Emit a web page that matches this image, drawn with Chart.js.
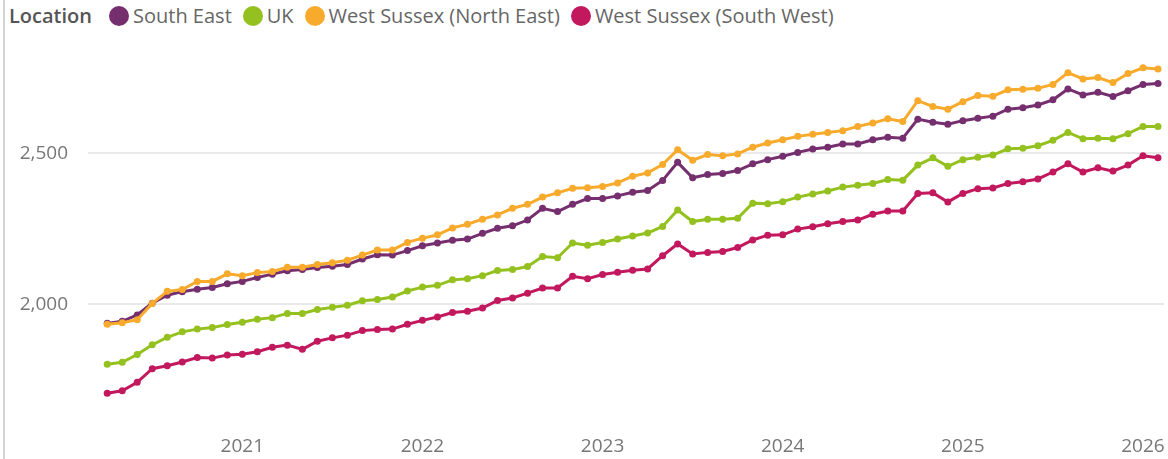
<!DOCTYPE html>
<html lang="en">
  <head>
    <meta charset="UTF-8" />
    <title>Private rents by location</title>
    <script src="https://cdn.jsdelivr.net/npm/chart.js"></script>
    <style>
      body { margin: 0; background: #fff; font-family: "Segoe UI", "Open Sans", sans-serif; }
      #wrap { position: relative; width: 1168px; height: 459px; overflow: hidden; }
      #edge { position: absolute; left: 3px; top: 0; width: 2px; height: 459px; background: #d4d4d4; }
      #legend { position: absolute; left: 9px; top: 2px; display: flex; align-items: center; font-size: 20px; color: #666; white-space: nowrap; }
      #legend .title { font-weight: 600; color: #555; margin-right: 17px; }
      #legend .item { display: flex; align-items: center; margin-right: 11px; }
      #legend .dot { width: 20px; height: 20px; border-radius: 50%; margin-right: 4px; }
      canvas { position: absolute; left: 0; top: 0; }
    </style>
  </head>
  <body>
    <div id="wrap">
      <div id="edge"></div>
      <div id="legend"><span class="title">Location</span></div>
      <canvas id="rentChart" width="1168" height="459"></canvas>
    </div>

    <script>
      // monthly points, Apr 2020 .. Feb 2026
      const months = [
        "2020-04", "2020-05", "2020-06", "2020-07", "2020-08", "2020-09", "2020-10", "2020-11", "2020-12",
        "2021-01", "2021-02", "2021-03", "2021-04", "2021-05", "2021-06", "2021-07", "2021-08", "2021-09", "2021-10", "2021-11", "2021-12",
        "2022-01", "2022-02", "2022-03", "2022-04", "2022-05", "2022-06", "2022-07", "2022-08", "2022-09", "2022-10", "2022-11", "2022-12",
        "2023-01", "2023-02", "2023-03", "2023-04", "2023-05", "2023-06", "2023-07", "2023-08", "2023-09", "2023-10", "2023-11", "2023-12",
        "2024-01", "2024-02", "2024-03", "2024-04", "2024-05", "2024-06", "2024-07", "2024-08", "2024-09", "2024-10", "2024-11", "2024-12",
        "2025-01", "2025-02", "2025-03", "2025-04", "2025-05", "2025-06", "2025-07", "2025-08", "2025-09", "2025-10", "2025-11", "2025-12",
        "2026-01", "2026-02"
      ];

      const yearTicks = ["2021", "2022", "2023", "2024", "2025", "2026"];
      const valueTicks = [2000, 2500];

      const southEast = [
        1937, 1944, 1965, 2004, 2030, 2042, 2050, 2056, 2068, 2076, 2089, 2100,
        2111, 2115, 2122, 2126, 2132, 2150, 2164, 2163, 2178, 2194, 2203, 2212,
        2216, 2235, 2252, 2260, 2279, 2318, 2307, 2331, 2350, 2350, 2359, 2371,
        2377, 2410, 2470, 2419, 2430, 2433, 2443, 2465, 2479, 2490, 2503, 2514,
        2520, 2531, 2531, 2545, 2553, 2550, 2613, 2603, 2596, 2608, 2616, 2623,
        2646, 2651, 2660, 2677, 2713, 2693, 2702, 2688, 2707, 2728, 2731
      ];
      const uk = [
        1802, 1808, 1834, 1866, 1891, 1909, 1918, 1923, 1933, 1941, 1951, 1956,
        1970, 1970, 1983, 1990, 1997, 2012, 2016, 2024, 2044, 2057, 2063, 2081,
        2085, 2095, 2112, 2115, 2125, 2158, 2154, 2203, 2196, 2205, 2216, 2226,
        2236, 2258, 2312, 2274, 2282, 2282, 2285, 2335, 2333, 2340, 2355, 2365,
        2375, 2388, 2394, 2400, 2413, 2411, 2461, 2485, 2457, 2479, 2487, 2494,
        2515, 2517, 2525, 2543, 2569, 2548, 2550, 2548, 2565, 2589, 2589
      ];
      const wsNorthEast = [
        1934, 1939, 1949, 2003, 2043, 2049, 2076, 2076, 2101, 2095, 2105, 2109,
        2123, 2123, 2132, 2138, 2146, 2163, 2180, 2180, 2205, 2219, 2230, 2253,
        2265, 2282, 2296, 2318, 2331, 2355, 2369, 2384, 2386, 2390, 2402, 2424,
        2435, 2463, 2512, 2477, 2496, 2492, 2498, 2520, 2534, 2545, 2556, 2563,
        2569, 2575, 2589, 2600, 2614, 2605, 2674, 2655, 2646, 2671, 2691, 2689,
        2710, 2712, 2715, 2728, 2767, 2746, 2751, 2734, 2764, 2783, 2779
      ];
      const wsSouthWest = [
        1706, 1714, 1742, 1787, 1797, 1809, 1824, 1822, 1832, 1835, 1843, 1858,
        1865, 1851, 1878, 1889, 1898, 1913, 1917, 1918, 1934, 1947, 1958, 1973,
        1977, 1988, 2013, 2021, 2037, 2054, 2054, 2093, 2085, 2099, 2106, 2113,
        2117, 2161, 2200, 2167, 2172, 2175, 2188, 2213, 2229, 2230, 2249, 2257,
        2267, 2274, 2279, 2298, 2309, 2309, 2367, 2369, 2339, 2367, 2383, 2385,
        2400, 2406, 2415, 2438, 2465, 2438, 2452, 2441, 2461, 2492, 2485
      ];

      const series = [
        { label: "South East", data: southEast, color: "#762F6E", order: 1 },
        { label: "UK", data: uk, color: "#94C11F", order: 2 },
        { label: "West Sussex (North East)", data: wsNorthEast, color: "#F7AA2C", order: 0 },
        { label: "West Sussex (South West)", data: wsSouthWest, color: "#C2185E", order: 3 },
      ];

      // html legend
      const legend = document.getElementById("legend");
      for (const s of series) {
        const item = document.createElement("span");
        item.className = "item";
        item.innerHTML = `<span class="dot" style="background:${s.color}"></span>${s.label}`;
        legend.appendChild(item);
      }

      const monthIndex = (ym) => months.indexOf(ym);

      const datasets = series.map((s) => ({
        label: s.label,
        data: s.data.map((v, i) => ({ x: i, y: v })),
        borderColor: s.color,
        backgroundColor: s.color,
        borderWidth: 3,
        pointRadius: 3.5,
        pointBorderWidth: 0,
        tension: 0,
        order: s.order,
      }));

      const tickFont = { family: "'Segoe UI', 'Open Sans', sans-serif", size: 19 };

      new Chart(document.getElementById("rentChart"), {
        type: "line",
        data: { datasets },
        options: {
          responsive: false,
          animation: false,
          layout: { padding: { top: 40, left: 0, right: 0, bottom: 0 } },
          plugins: { legend: { display: false }, tooltip: { enabled: false } },
          scales: {
            x: {
              type: "linear",
              min: -1.28,
              max: 70.4,
              grid: { display: false, drawTicks: false },
              border: { display: false },
              afterBuildTicks: (scale) => {
                scale.ticks = yearTicks.map((y) => ({ value: monthIndex(y + "-01") }));
              },
              afterFit: (scale) => {
                scale.height = 29;
                scale.paddingLeft = 0;
                scale.paddingRight = 0;
              },
              ticks: {
                autoSkip: false,
                maxRotation: 0,
                padding: 8,
                color: "#777",
                font: tickFont,
                callback: (v) => months[v].slice(0, 4),
              },
            },
            y: {
              min: 1592,
              max: 2875,
              grid: { color: "#e9e9e9", lineWidth: 2, drawTicks: false },
              border: { display: false },
              afterBuildTicks: (scale) => {
                scale.ticks = valueTicks.map((v) => ({ value: v }));
              },
              afterFit: (scale) => { scale.width = 88; },
              ticks: {
                padding: 20,
                color: "#777",
                font: tickFont,
                callback: (v) => v.toLocaleString("en-US"),
              },
            },
          },
        },
      });
    </script>
  </body>
</html>
